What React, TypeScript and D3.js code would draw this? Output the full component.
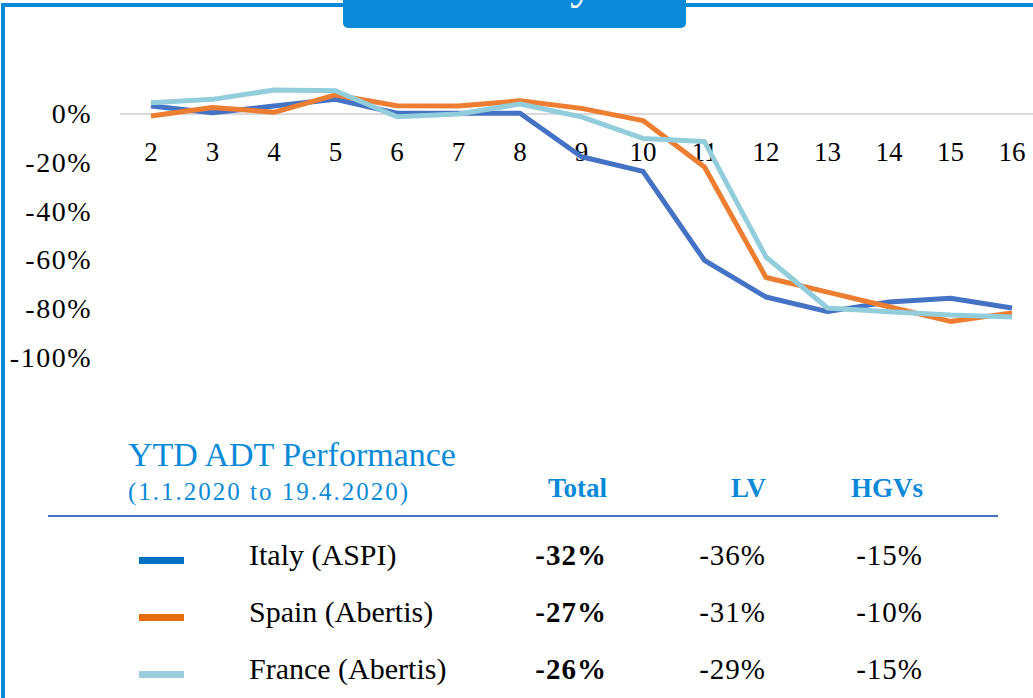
import React, { useEffect, useRef } from 'react';
import * as d3 from 'd3';

const weeks = [2, 3, 4, 5, 6, 7, 8, 9, 10, 11, 12, 13, 14, 15, 16];
const italy = [3.3, 0.5, 3.3, 6, 0.3, 0.3, 0.3, -17.5, -23.5, -60, -75, -81, -77, -75.5, -79.5];
const spain = [-0.8, 2.7, 0.7, 7.8, 3.4, 3.3, 5.4, 2.3, -2.7, -21.7, -67, -73, -79, -85, -81.5];
const france = [4.6, 6, 9.8, 9.5, -1.1, 0, 4.1, -1.2, -10, -11.3, -58.6, -79.5, -81, -82.4, -83.2];
const yTicks = [0, -20, -40, -60, -80, -100];

const seriesNames = ['Italy (ASPI)', 'Spain (Abertis)', 'France (Abertis)'];
const lineColors = ['#4472C4', '#ED7D31', '#92CDDC'];
const swatchColors = ['#0070C0', '#E46C0A', '#9ACEDF'];
const totalPerf = ['-32%', '-27%', '-26%'];
const lvPerf = ['-36%', '-31%', '-29%'];
const hgvPerf = ['-15%', '-10%', '-15%'];

const W = 1033;
const H = 698;
const BLUE = '#0A8AD8';
const FONT = '"Liberation Serif", "DejaVu Serif", serif';

const App = () => {
  const svgRef = useRef<SVGSVGElement>(null);

  useEffect(() => {
    const svg = d3.select(svgRef.current);
    svg.selectAll('*').remove();

    // frame + title tab (title sits above the page edge, only a descender shows)
    svg.append('rect').attr('x', 1).attr('y', 3).attr('width', 4).attr('height', H).attr('fill', BLUE);
    svg.append('rect').attr('x', 1).attr('y', 3).attr('width', W).attr('height', 4).attr('fill', BLUE);
    svg.append('rect')
      .attr('x', 343).attr('y', -20).attr('width', 343).attr('height', 48)
      .attr('rx', 5).attr('fill', BLUE);
    svg.append('text')
      .attr('x', 594).attr('y', -2)
      .attr('text-anchor', 'end')
      .attr('fill', 'white')
      .style('font-family', FONT)
      .style('font-size', '48px')
      .text('Traffic Weekly');

    // scales
    const x = d3.scalePoint<number>().domain(weeks).range([151, 1012]);
    const y = d3.scaleLinear().domain([-100, 0]).range([358, 114]);

    // zero line
    svg.append('line')
      .attr('x1', 120).attr('x2', W)
      .attr('y1', y(0)).attr('y2', y(0))
      .attr('stroke', '#D9D9D9').attr('stroke-width', 2);

    // y labels
    svg.append('g')
      .selectAll('text')
      .data(yTicks)
      .join('text')
      .attr('x', 92)
      .attr('y', d => y(d) + 9)
      .attr('text-anchor', 'end')
      .style('font-family', FONT)
      .style('font-size', '28px')
      .style('letter-spacing', '1.5px')
      .style('font-variant-numeric', 'oldstyle-nums')
      .text(d => `${d}%`);

    // x labels
    svg.append('g')
      .selectAll('text')
      .data(weeks)
      .join('text')
      .attr('x', d => x(d))
      .attr('y', 161)
      .attr('text-anchor', 'middle')
      .style('font-family', FONT)
      .style('font-size', '27px')
      .style('font-variant-numeric', 'oldstyle-nums')
      .text(d => d);

    // lines
    const line = d3.line<number>()
      .x((_, i) => x(weeks[i]))
      .y(d => y(d));

    [italy, spain, france].forEach((s, i) => {
      svg.append('path')
        .datum(s)
        .attr('fill', 'none')
        .attr('stroke', lineColors[i])
        .attr('stroke-width', 5)
        .attr('stroke-linejoin', 'round')
        .attr('d', line);
    });

    // table
    svg.append('text')
      .attr('x', 128).attr('y', 466)
      .attr('fill', BLUE)
      .style('font-family', FONT)
      .style('font-size', '34px')
      .text('YTD ADT Performance');
    svg.append('text')
      .attr('x', 128).attr('y', 500)
      .attr('fill', BLUE)
      .style('font-family', FONT)
      .style('font-size', '25px')
      .style('letter-spacing', '2px')
      .style('font-variant-numeric', 'oldstyle-nums')
      .text('(1.1.2020 to 19.4.2020)');

    const colX = [607, 766, 923];
    ['Total', 'LV', 'HGVs'].forEach((h, i) => {
      svg.append('text')
        .attr('x', colX[i]).attr('y', 497)
        .attr('text-anchor', 'end')
        .attr('fill', BLUE)
        .style('font-family', FONT)
        .style('font-size', '27px')
        .style('font-weight', 'bold')
        .text(h);
    });

    svg.append('line')
      .attr('x1', 48).attr('x2', 998)
      .attr('y1', 516).attr('y2', 516)
      .attr('stroke', '#4472C4').attr('stroke-width', 2);

    const rowY = [565, 622, 679];
    seriesNames.forEach((name, i) => {
      svg.append('rect')
        .attr('x', 139).attr('y', rowY[i] - 8)
        .attr('width', 45).attr('height', 7)
        .attr('fill', swatchColors[i]);
      svg.append('text')
        .attr('x', 249).attr('y', rowY[i])
        .style('font-family', FONT)
        .style('font-size', '30px')
        .text(name);
      [totalPerf, lvPerf, hgvPerf].forEach((col, j) => {
        svg.append('text')
          .attr('x', colX[j]).attr('y', rowY[i])
          .attr('text-anchor', 'end')
          .style('font-family', FONT)
          .style('font-size', '29px')
          .style('letter-spacing', '1px')
          .style('font-weight', j === 0 ? 'bold' : 'normal')
          .style('font-variant-numeric', 'oldstyle-nums')
          .text(col[i]);
      });
    });
  }, []);

  return (
    <div style={{ position: 'absolute', left: 0, top: 0, width: W, height: H, background: 'white', overflow: 'hidden' }}>
      <svg ref={svgRef} width={W} height={H} style={{ display: 'block' }} />
    </div>
  );
};

export default App;
